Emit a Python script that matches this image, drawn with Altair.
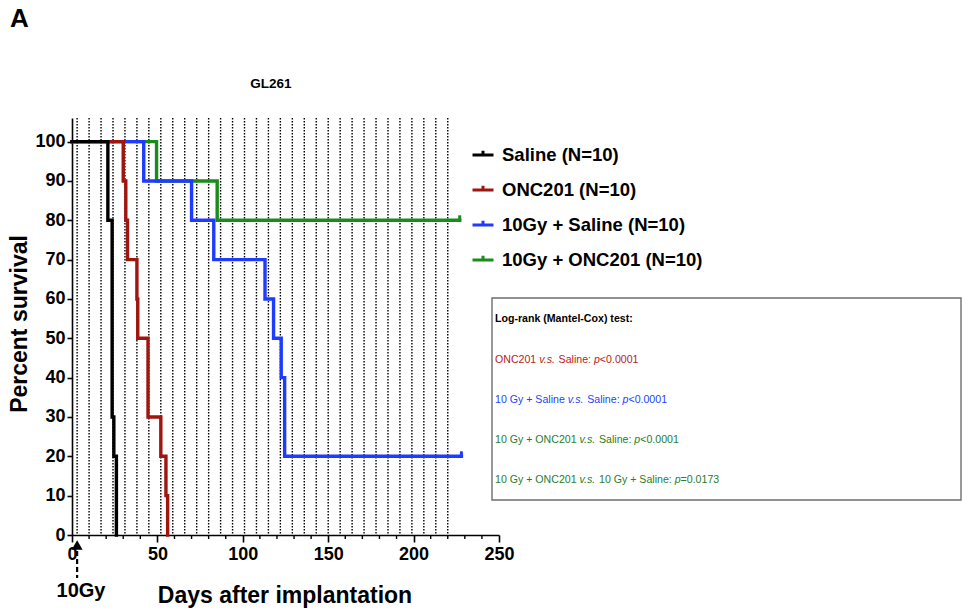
import altair as alt
import pandas as pd

# ---------------- data ----------------
groups = ["Saline (N=10)", "ONC201 (N=10)", "10Gy + Saline (N=10)", "10Gy + ONC201 (N=10)"]
colors = ["#000000", "#a01510", "#1e3cff", "#1a8c1a"]

saline_days = [0, 21, 23.5, 24.5, 26]
saline_surv = [100, 80, 30, 20, 0]
onc_days = [0, 30, 31.5, 32.5, 38, 38.5, 44.5, 52, 55, 56]
onc_surv = [100, 90, 80, 70, 60, 50, 30, 20, 10, 0]
rt_saline_days = [0, 42, 70, 83, 113, 118, 122.5, 124.5, 228]
rt_saline_surv = [100, 90, 80, 70, 60, 50, 40, 20, 20]
rt_onc_days = [0, 49.5, 85, 227]
rt_onc_surv = [100, 90, 80, 80]

censor_days = [228, 227]
censor_surv = [20, 80]
censor_groups = ["10Gy + Saline (N=10)", "10Gy + ONC201 (N=10)"]

treatment_days = list(range(3, 221, 7))
irradiation_day = [3]

x_major = list(range(0, 251, 50))
x_minor = [v for v in range(10, 250, 10) if v % 50 != 0]
y_ticks = list(range(0, 101, 10))

stats_title = "Log-rank (Mantel-Cox) test:"
stats_lines = [
    (["ONC201 ", "v.s.", " Saline: ", "p", "<0.0001"], "#b8221c"),
    (["10 Gy + Saline ", "v.s.", " Saline: ", "p", "<0.0001"], "#2244ff"),
    (["10 Gy + ONC201 ", "v.s.", " Saline: ", "p", "<0.0001"], "#2a7d2a"),
    (["10 Gy + ONC201 ", "v.s.", " 10 Gy + Saline: ", "p", "=0.0173"], "#2a7d2a"),
]

# ---------------- build tables ----------------
rows = []
for g, d, s in zip(groups, [saline_days, onc_days, rt_saline_days, rt_onc_days],
                   [saline_surv, onc_surv, rt_saline_surv, rt_onc_surv]):
    for a, b in zip(d, s):
        rows.append({"group": g, "day": a, "surv": b})
surv_df = pd.DataFrame(rows)
color_of = dict(zip(groups, colors))
censor_df = pd.DataFrame({"day": censor_days, "surv": censor_surv, "group": censor_groups,
                          "hex": [color_of[g] for g in censor_groups]})
treat_df = pd.DataFrame({"day": treatment_days})
irr_df = pd.DataFrame({"day": irradiation_day})
minor_df = pd.DataFrame({"day": x_minor})

FONT = "Arial"
W, H = 427, 417

x_scale = alt.Scale(domain=[0, 250], nice=False, zero=False)
y_scale = alt.Scale(domain=[0, 106], nice=False, zero=True)

x_axis = alt.Axis(
    values=x_major, title=None, tickSize=7,
    labelFontSize=18, labelFontWeight="bold", labelFont=FONT, labelColor="black",
    labelPadding=3, labelOverlap=False, labelFlush=False,
    domainColor="black", domainWidth=1.6, tickColor="black", tickWidth=1.6, grid=False,
)
y_axis = alt.Axis(
    values=y_ticks, title=None, tickSize=5,
    labelFontSize=18, labelFontWeight="bold", labelFont=FONT, labelColor="black",
    labelPadding=2, labelOverlap=False, labelFlush=False,
    domainColor="black", domainWidth=1.6, tickColor="black", tickWidth=1.6, grid=False,
)

# dotted treatment lines
dotted = alt.Chart(treat_df).mark_rule(color="black", strokeWidth=1.4, strokeDash=[1.5, 1.5]).encode(
    x=alt.X("day:Q", scale=x_scale, axis=x_axis)
)
minor = alt.Chart(minor_df).mark_rule(color="black", strokeWidth=1.4).encode(
    x=alt.X("day:Q", scale=x_scale), y=alt.value(H), y2=alt.value(H + 4)
)

legend = alt.Legend(
    title=None, orient="none", legendX=399, legendY=25, padding=0,
    labelFontSize=18.5, labelFontWeight="bold", labelFont=FONT, labelColor="black", labelLimit=400,
    symbolType="M-1,0H1M0,0V-0.4", symbolSize=441, symbolStrokeWidth=3,
    labelOffset=7, rowPadding=13,
)
color_enc = alt.Color("group:N", scale=alt.Scale(domain=groups, range=colors), legend=legend)

line_layers = []
for g in reversed(groups):
    line_layers.append(
        alt.Chart(surv_df).transform_filter(alt.datum.group == g)
        .mark_line(interpolate="step-after", strokeWidth=3.4, strokeCap="square")
        .encode(
            x=alt.X("day:Q", scale=x_scale, axis=x_axis),
            y=alt.Y("surv:Q", scale=y_scale, axis=y_axis),
            color=color_enc,
        )
    )

censor = alt.Chart(censor_df).mark_point(shape="M0,0V-1", size=100, filled=False, strokeWidth=3, opacity=1).encode(
    x=alt.X("day:Q", scale=x_scale),
    y=alt.Y("surv:Q", scale=y_scale),
    stroke=alt.Color("hex:N", scale=None),
)

# irradiation arrow
arrow_head = alt.Chart(irr_df).mark_point(shape="triangle-up", filled=True, size=120, color="black", opacity=1).encode(
    x=alt.X("day:Q", scale=x_scale), y=alt.value(427)
)
arrow_shaft = alt.Chart(irr_df).mark_rule(color="black", strokeWidth=2.2, strokeDash=[5, 3]).encode(
    x=alt.X("day:Q", scale=x_scale), y=alt.value(433), y2=alt.value(460)
)

one = pd.DataFrame({"k": [0]})


def label(text, x, y, size, weight="bold", color="black", align="left", baseline="alphabetic", angle=0, style="normal"):
    kw = dict(text=text, fontSize=size, fontWeight=weight, color=color, align=align,
              baseline=baseline, font=FONT, fontStyle=style)
    if angle:
        kw["angle"] = angle
    return alt.Chart(one).mark_text(**kw).encode(x=alt.value(x), y=alt.value(y))


texts = [
    label("A", -62, -91, 26),
    label("GL261", 199, -30, 13.5, align="center"),
    label("Percent survival", -52, 206, 23, align="center", baseline="middle", angle=270),
    label("Days after implantation", 213, 485, 23, align="center"),
    label("10Gy", 9, 479, 20, align="center"),
]

# statistics box
box = alt.Chart(one).mark_rect(fill="white", stroke="#6e6e6e", strokeWidth=1.4).encode(
    x=alt.value(420), x2=alt.value(889), y=alt.value(180), y2=alt.value(382)
)

ARIAL = {" ": 278, "+": 584, ".": 278, ":": 278, "<": 584, "=": 584, "O": 778, "N": 722, "C": 722,
         "G": 778, "S": 667, "a": 556, "e": 556, "i": 222, "l": 222, "n": 556, "p": 556, "s": 500,
         "v": 500, "y": 500}


def width(s, size):
    return sum(ARIAL.get(c, 556) for c in s) * size / 1000.0


TS = 10.6
texts.append(label(stats_title, 423, 201, TS, baseline="middle"))
line_y = [242, 281.5, 322, 361.5]
for (parts, col), yy in zip(stats_lines, line_y):
    xx = 423.0
    for i, p in enumerate(parts):
        italic = i in (1, 3)
        lead = len(p) - len(p.lstrip(" "))
        texts.append(label(p.strip(" "), xx + width(" " * lead, TS), yy, TS, weight="normal", color=col,
                           baseline="middle", style="italic" if italic else "normal"))
        xx += width(p, TS)

chart = alt.layer(dotted, minor, box, *line_layers, censor, arrow_shaft, arrow_head, *texts).properties(
    width=W, height=H,
    padding={"left": 72, "top": 118, "right": 962 - 72 - W, "bottom": 614 - 118 - H},
    autosize=alt.AutoSizeParams(type="none"),
    background="white",
).configure_view(stroke=None)

chart.save("out.html", embed_options={"renderer": "svg", "actions": False})
